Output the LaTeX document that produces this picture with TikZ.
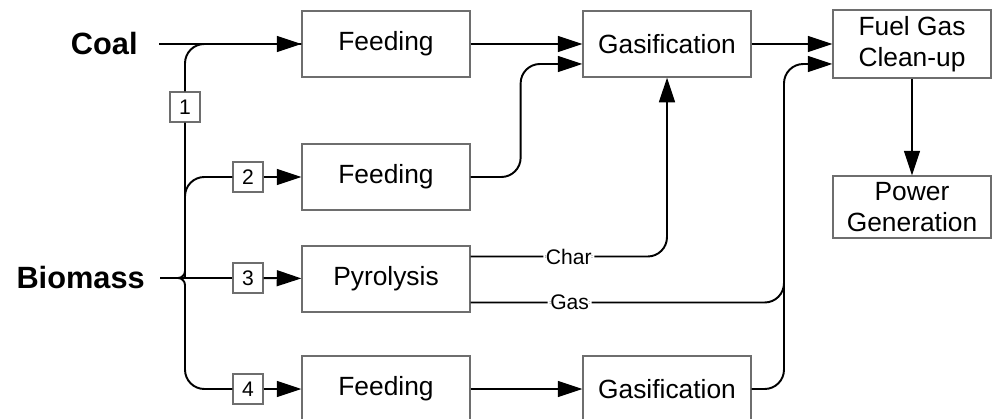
\documentclass[tikz,border=0pt]{standalone}
\usepackage{fontspec}
\setmainfont{Liberation Sans}
\usetikzlibrary{positioning,calc,arrows.meta}
\definecolor{boxgrey}{HTML}{6E6E6E}

\begin{document}
\begin{tikzpicture}
		[x=0.02cm, y=-0.02cm,
		unit/.style = {draw=boxgrey, line width=0.75pt, minimum width=3.36cm, minimum height=1.32cm, align=center, font=\fontsize{15}{18}\selectfont},
		tag/.style = {draw=boxgrey, fill=white, line width=0.7pt, minimum size=0.6cm, inner sep=0pt, font=\fontsize{12}{14}\selectfont},
		src/.style = {anchor=east, inner ysep=2pt, font=\bfseries\fontsize{17.5}{21}\selectfont},
		lbl/.style = {fill=white, inner sep=1.5pt, font=\fontsize{12}{14}\selectfont},
		line/.style = {line width=1.1pt},
		flow/.style = {line, -{Triangle[length=14pt, width=9pt]}}]
		\useasboundingbox (0,0) rectangle (992,419);

		% process boxes
		\node[unit] (feedA) at (386,44) {Feeding};
		\node[unit] (gasA) at (667,44) {Gasification};
		\node[unit, minimum width=3.16cm] (clean) at (912,44) {Fuel Gas\\Clean-up};
		\node[unit, minimum width=3.16cm, minimum height=1.16cm] (power) at (912,207) {Power\\Generation};
		\node[unit] (feedB) at (386,177) {Feeding};
		\node[unit] (pyro) at (386,279) {Pyrolysis};
		\node[unit] (feedC) at (386,389) {Feeding};
		\node[unit] (gasC) at (667,389) {Gasification};

		% feeds
		\node[src, inner xsep=12pt] (coal) at (159,44) {Coal};
		\node[src, inner xsep=8.5pt] (bio) at (160,278) {Biomass};
		\coordinate (fork) at (185,278);
		\node[tag] (n1) at (185,107) {1};
		\node[tag] (n2) at (248,177) {2};
		\node[tag] (n3) at (248,278) {3};
		\node[tag] (n4) at (248,389) {4};

		% coal and the four biomass routes
		\draw[flow] (coal.east) -- (feedA);
		\draw[line, rounded corners=11pt] (n1.north) |- (feedA.west);
		\draw[line, rounded corners=4pt] (n1.south) -- (fork) -- (bio.east);
		\draw[line, rounded corners=4pt] (bio.east) -- (fork) [rounded corners=11pt] -- (fork |- n4.west) -- (n4.west);
		\draw[line, rounded corners=11pt] (fork) -- (fork |- n2.west) -- (n2.west);
		\draw[line] (bio.east) -- (n3.west);
		\draw[flow] (n2) -- (feedB);
		\draw[flow] (n3) -- (pyro);
		\draw[flow] (n4) -- (feedC);

		% into gasification
		\coordinate (gasAin) at ([yshift=-0.4cm]gasA.west);
		\coordinate (cleanin) at ([yshift=-0.4cm]clean.west);
		\coordinate (charout) at ([yshift=0.45cm]pyro.east);
		\coordinate (gasout) at ([yshift=-0.47cm]pyro.east);
		\coordinate (merge) at (784,64);
		\draw[flow] (feedA) -- (gasA);
		\draw[flow, rounded corners=11pt] (feedB.east) -- ++(50,0) |- (gasAin);
		\draw[flow, rounded corners=11pt] (charout) -| (gasA.south) node[lbl, pos=0.25] {Char};
		\draw[flow] (feedC) -- (gasC);

		% to clean-up and power
		\draw[flow] (gasA) -- (clean);
		\draw[flow, rounded corners=11pt] (gasout) -| (merge) node[lbl, pos=0.158] {Gas} -- (cleanin);
		\draw[line, rounded corners=11pt] (gasC.east) -| (merge |- charout);
		\draw[flow] (clean) -- (power);
	\end{tikzpicture}
\end{document}
